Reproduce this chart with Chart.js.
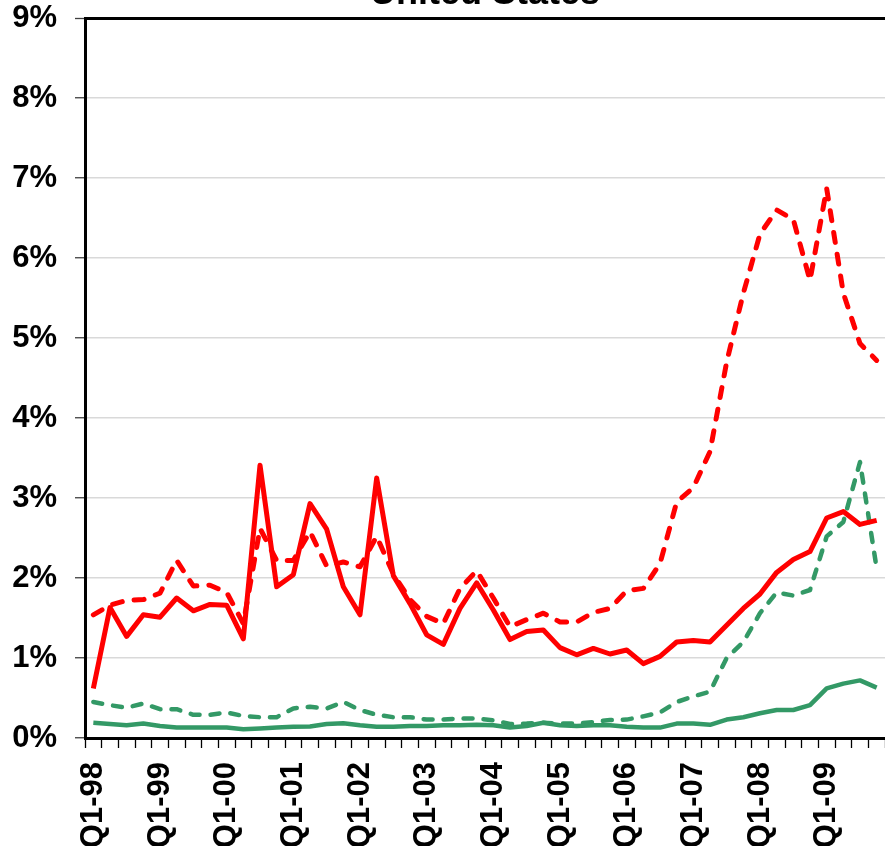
<!DOCTYPE html>
<html>
<head>
<meta charset="utf-8">
<script src="https://cdn.jsdelivr.net/npm/chart.js@4"></script>
<style>
  html, body { margin: 0; padding: 0; background: #fff; }
  #wrap { position: relative; width: 885px; height: 846px; }
</style>
</head>
<body>
<div id="wrap"><canvas id="chart" width="885" height="846"></canvas></div>
<script>
// quarters Q1-98 .. Q4-09
const years = ["98", "99", "00", "01", "02", "03", "04", "05", "06", "07", "08", "09"];
const quarters = [];
years.forEach((y) => {
  for (let q = 1; q <= 4; q++) quarters.push("Q" + q + "-" + y);
});

const yTicks = [0, 1, 2, 3, 4, 5, 6, 7, 8, 9];

// values in percent
const redSolid = [
  0.62, 1.63, 1.27, 1.54, 1.51, 1.75, 1.59, 1.67, 1.66, 1.24, 3.41, 1.89,
  2.04, 2.93, 2.61, 1.89, 1.54, 3.25, 2.03, 1.68, 1.29, 1.17, 1.62, 1.94,
  1.60, 1.23, 1.33, 1.35, 1.13, 1.04, 1.12, 1.05, 1.10, 0.93, 1.02, 1.20,
  1.22, 1.20, 1.41, 1.62, 1.80, 2.07, 2.23, 2.33, 2.75, 2.83, 2.67, 2.72
];
const redDashed = [
  1.54, 1.66, 1.72, 1.73, 1.81, 2.22, 1.90, 1.91, 1.82, 1.43, 2.62, 2.22,
  2.22, 2.58, 2.15, 2.20, 2.14, 2.52, 2.05, 1.73, 1.52, 1.43, 1.87, 2.09,
  1.75, 1.39, 1.48, 1.56, 1.45, 1.45, 1.57, 1.62, 1.84, 1.87, 2.18, 2.95,
  3.13, 3.58, 4.70, 5.56, 6.30, 6.60, 6.48, 5.72, 6.87, 5.56, 4.93, 4.72
];
const greenDashed = [
  0.45, 0.41, 0.38, 0.43, 0.36, 0.36, 0.29, 0.29, 0.32, 0.275, 0.26, 0.26,
  0.37, 0.39, 0.37, 0.45, 0.35, 0.29, 0.26, 0.26, 0.23, 0.23, 0.245, 0.245,
  0.22, 0.175, 0.18, 0.19, 0.18, 0.18, 0.20, 0.225, 0.23, 0.27, 0.32, 0.45,
  0.52, 0.58, 1.00, 1.20, 1.56, 1.82, 1.78, 1.85, 2.52, 2.70, 3.45, 2.12
];
const greenSolid = [
  0.19, 0.175, 0.16, 0.18, 0.15, 0.13, 0.13, 0.13, 0.13, 0.11, 0.12, 0.13,
  0.14, 0.145, 0.175, 0.185, 0.16, 0.14, 0.14, 0.15, 0.15, 0.16, 0.16, 0.165,
  0.16, 0.13, 0.15, 0.19, 0.16, 0.15, 0.16, 0.16, 0.14, 0.13, 0.13, 0.18,
  0.18, 0.165, 0.23, 0.26, 0.31, 0.35, 0.35, 0.41, 0.62, 0.68, 0.72, 0.63
];

const titleText = "United States";
const RED = "#ff0000";
const GREEN = "#339966";
const FONT = "'Liberation Sans', Arial, sans-serif";

// title sits above the frame, mostly cut off by the top edge
const titlePlugin = {
  id: "cutTitle",
  afterDraw(chart) {
    const ctx = chart.ctx;
    const area = chart.chartArea;
    ctx.save();
    ctx.font = "bold 36px " + FONT;
    ctx.fillStyle = "#000";
    ctx.textAlign = "center";
    ctx.textBaseline = "alphabetic";
    ctx.fillText(titleText, (area.left + area.right) / 2, area.top - 14);
    ctx.restore();
  }
};

function lineSet(data, color, width, dash) {
  return {
    data: data,
    borderColor: color,
    backgroundColor: color,
    borderWidth: width,
    borderDash: dash,
    borderCapStyle: dash.length ? "round" : "butt",
    borderJoinStyle: "round",
    pointRadius: 0,
    tension: 0,
    fill: false
  };
}

new Chart(document.getElementById("chart"), {
  type: "line",
  data: {
    labels: quarters,
    datasets: [
      lineSet(redSolid, RED, 5, []),
      lineSet(redDashed, RED, 5, [10, 12]),
      lineSet(greenSolid, GREEN, 4.5, []),
      lineSet(greenDashed, GREEN, 4.5, [9, 11])
    ]
  },
  options: {
    responsive: false,
    animation: false,
    devicePixelRatio: 1,
    layout: { padding: { top: 18, right: 0, bottom: 0, left: 0 } },
    plugins: {
      legend: { display: false },
      title: { display: false },
      tooltip: { enabled: false }
    },
    scales: {
      x: {
        offset: true,
        afterFit: (s) => {
          s.height = 108;
          s.paddingLeft = 0;
          s.paddingRight = 0;
        },
        grid: {
          offset: true,
          drawOnChartArea: false,
          drawTicks: true,
          tickLength: 10,
          tickColor: "#000",
          tickWidth: 1.3
        },
        border: { display: true, color: "#000", width: 3 },
        ticks: {
          autoSkip: false,
          maxRotation: 90,
          minRotation: 90,
          padding: 14,
          color: "#000",
          font: { family: FONT, size: 31, weight: "bold" },
          callback: function (v, i) {
            return i % 4 === 0 ? quarters[i] : "";
          }
        }
      },
      y: {
        min: 0,
        max: 9,
        afterFit: (s) => {
          s.width = 85;
          s.paddingTop = 0;
          s.paddingBottom = 0;
        },
        afterBuildTicks: (axis) => {
          axis.ticks = yTicks.map((v) => ({ value: v }));
        },
        grid: {
          color: (c) => (c.tick && c.tick.value === 9 ? "#000" : "#d9d9d9"),
          lineWidth: (c) => (c.tick && c.tick.value === 9 ? 3 : 1.5),
          drawTicks: true,
          tickLength: 10,
          tickColor: "#404040",
          tickWidth: 1.3
        },
        border: { display: true, color: "#000", width: 3 },
        ticks: {
          padding: 18,
          color: "#000",
          font: { family: FONT, size: 31, weight: "bold" },
          callback: (v) => v + "%"
        }
      }
    }
  },
  plugins: [titlePlugin]
});
</script>
</body>
</html>
